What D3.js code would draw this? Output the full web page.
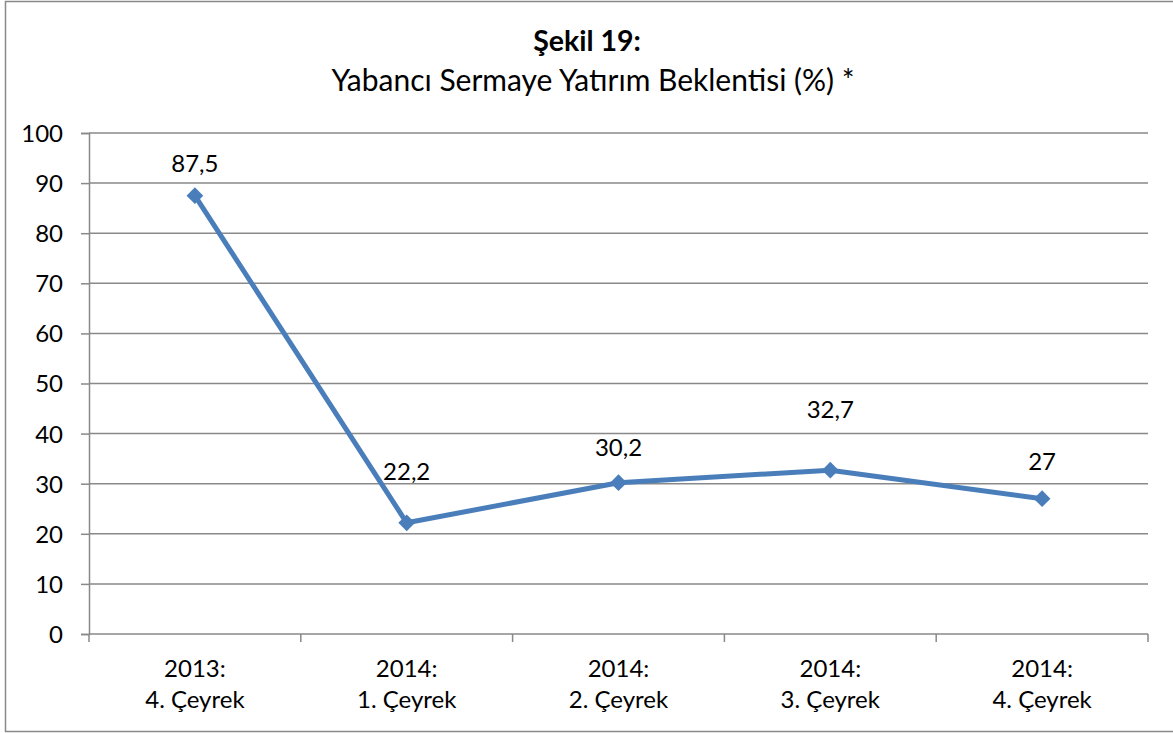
<!DOCTYPE html>
<html>
<head>
<meta charset="utf-8">
<script src="https://cdn.jsdelivr.net/npm/d3@7"></script>
<style>
  body { margin: 0; background: #fff; }
  svg text { font-family: Lato, "Open Sans", sans-serif; fill: #000; }
</style>
</head>
<body>
<svg width="1173" height="733"></svg>
<script>
// data
var years = ["2013:", "2014:", "2014:", "2014:", "2014:"];
var quarters = ["4. Çeyrek", "1. Çeyrek", "2. Çeyrek", "3. Çeyrek", "4. Çeyrek"];
var values = [87.5, 22.2, 30.2, 32.7, 27];
var valueLabels = ["87,5", "22,2", "30,2", "32,7", "27"];
var yTicks = [0, 10, 20, 30, 40, 50, 60, 70, 80, 90, 100];

// label nudges (px above point), as placed in the original
var labelNudge = [24, 43, 27, 52, 29];

var svg = d3.select("svg");
var margin = {top: 133, right: 25, bottom: 99, left: 89},
    width = 1173 - margin.left - margin.right,
    height = 733 - margin.top - margin.bottom;

// outer frame
svg.append("rect")
    .attr("x", 5.5).attr("y", 1.5)
    .attr("width", 1180).attr("height", 730)
    .attr("fill", "none").attr("stroke", "#898989").attr("stroke-width", 1.5);

// titles
svg.append("text")
    .attr("x", 587).attr("y", 51)
    .attr("text-anchor", "middle")
    .style("font-size", "28.5px").style("font-weight", "bold")
    .text("Şekil 19:");
svg.append("text")
    .attr("x", 593).attr("y", 91)
    .attr("text-anchor", "middle")
    .style("font-size", "30px")
    .text("Yabancı Sermaye Yatırım Beklentisi (%) *");

var g = svg.append("g")
    .attr("transform", "translate(" + margin.left + "," + margin.top + ")");

var idx = d3.range(values.length);
var x = d3.scaleBand().domain(idx).range([0, width]);
var y = d3.scaleLinear().domain([0, 100]).range([height, 0]);

// gridlines
g.selectAll(".grid")
    .data(yTicks.slice(1))
  .enter().append("line")
    .attr("class", "grid")
    .attr("x1", 0).attr("x2", width)
    .attr("y1", function(d) { return y(d); })
    .attr("y2", function(d) { return y(d); })
    .attr("stroke", "#898989").attr("stroke-width", 1.5);

// y axis
var yAxis = g.append("g")
    .call(d3.axisLeft(y).tickValues(yTicks).tickSize(8).tickPadding(18));
yAxis.select(".domain").attr("stroke", "#898989").attr("stroke-width", 1.5);
yAxis.selectAll(".tick line").attr("stroke", "#898989").attr("stroke-width", 1.5);
yAxis.selectAll("text").style("font-size", "24px").attr("dy", "0.35em");

// x axis with ticks at category boundaries
g.append("line")
    .attr("x1", 0).attr("x2", width)
    .attr("y1", height).attr("y2", height)
    .attr("stroke", "#898989").attr("stroke-width", 1.5);
g.selectAll(".xtick")
    .data(d3.range(values.length + 1))
  .enter().append("line")
    .attr("x1", function(d) { return d === values.length ? width : x(d); })
    .attr("x2", function(d) { return d === values.length ? width : x(d); })
    .attr("y1", height).attr("y2", height + 8)
    .attr("stroke", "#898989").attr("stroke-width", 1.5);

var xl = g.selectAll(".xlabel")
    .data(idx)
  .enter().append("text")
    .attr("text-anchor", "middle")
    .attr("transform", function(d) { return "translate(" + (x(d) + x.bandwidth() / 2) + "," + (height + 43) + ")"; })
    .style("font-size", "24px");
xl.append("tspan").attr("x", 0).attr("y", 0).text(function(d) { return years[d]; });
xl.append("tspan").attr("x", 0).attr("y", 31).text(function(d) { return quarters[d]; });

// line
var line = d3.line()
    .x(function(d) { return x(d) + x.bandwidth() / 2; })
    .y(function(d) { return y(values[d]); });

g.append("path")
    .attr("fill", "none")
    .attr("stroke", "#4a7ebb")
    .attr("stroke-width", 5)
    .attr("stroke-linejoin", "round")
    .attr("stroke-linecap", "round")
    .attr("d", line(idx));

g.selectAll(".marker")
    .data(idx)
  .enter().append("path")
    .attr("d", d3.symbol().type(d3.symbolSquare).size(140))
    .attr("transform", function(d) { return "translate(" + (x(d) + x.bandwidth() / 2) + "," + y(values[d]) + ") rotate(45)"; })
    .attr("fill", "#4a7ebb");

// data labels
g.selectAll(".vlabel")
    .data(idx)
  .enter().append("text")
    .attr("text-anchor", "middle")
    .attr("x", function(d) { return x(d) + x.bandwidth() / 2; })
    .attr("y", function(d) { return y(values[d]) - labelNudge[d]; })
    .style("font-size", "24px")
    .text(function(d) { return valueLabels[d]; });
</script>
</body>
</html>
